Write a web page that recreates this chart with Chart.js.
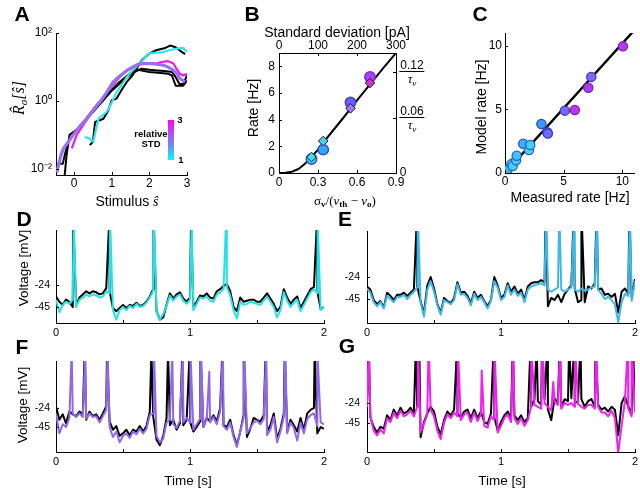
<!DOCTYPE html>
<html>
<head>
<meta charset="utf-8">
<script src="https://cdn.jsdelivr.net/npm/chart.js@4.4.0/dist/chart.umd.min.js"></script>
<style>
  body { margin: 0; background: #fff; }
  #fig { position: relative; width: 640px; height: 488px; overflow: hidden; font-family: "Liberation Sans", Arial, sans-serif; color: #000; }
  #fig canvas { position: absolute; }
  .t { position: absolute; white-space: nowrap; line-height: 1; z-index: 2; }
  .c { transform: translate(-50%, -50%); }
  .r { transform: translate(-50%, -50%) rotate(-90deg); }
  .lab { font-weight: bold; font-size: 21px; }
  .ttl { font-size: 14px; }
  .serif { font-family: "Liberation Serif", "DejaVu Serif", serif; }
  sub { font-size: 70%; vertical-align: -0.3em; line-height: 0; }
  .frac { transform: translateX(-50%); text-align: center; font-size: 12px; }
  .frac .num { border-bottom: 1px solid #000; line-height: 11px; padding: 0 1px; }
  .frac .den { font-family: "Liberation Serif", serif; font-style: italic; line-height: 13px; font-size: 13px; }
  #cbar { position: absolute; left: 168px; top: 120px; width: 6px; height: 40px; z-index: 2;
          background: linear-gradient(#ff00ff, #b052f0 35%, #7a84f0 62%, #00ffff); }
</style>
</head>
<body>
<div id="fig">
  <canvas id="cA" width="200" height="210" style="left:0;top:0"></canvas>
  <canvas id="cB" width="230" height="210" style="left:200px;top:0"></canvas>
  <canvas id="cC" width="210" height="210" style="left:430px;top:0"></canvas>
  <canvas id="cD" width="345" height="140" style="left:0;top:205px"></canvas>
  <canvas id="cE" width="320" height="140" style="left:330px;top:205px"></canvas>
  <canvas id="cF" width="345" height="148" style="left:0;top:340px"></canvas>
  <canvas id="cG" width="320" height="148" style="left:330px;top:340px"></canvas>

  <div class="t lab c" style="left:22px;top:13px">A</div>
  <div class="t lab c" style="left:252px;top:13px">B</div>
  <div class="t lab c" style="left:480px;top:13px">C</div>
  <div class="t lab c" style="left:24px;top:218px">D</div>
  <div class="t lab c" style="left:345px;top:218px">E</div>
  <div class="t lab c" style="left:22px;top:346px">F</div>
  <div class="t lab c" style="left:347px;top:345px">G</div>

  <!-- A -->
  <div class="t r serif" style="left:19px;top:98px;font-size:16px;font-style:italic">R&#770;<sub>σ</sub>[s&#770;]</div>
  <div class="t c ttl" style="left:127px;top:201px">Stimulus <i class="serif">s&#770;</i></div>
  <div id="cbar"></div>
  <div class="t c" style="left:151px;top:134px;font-size:9.5px;font-weight:bold">relative</div>
  <div class="t c" style="left:151px;top:144px;font-size:9.5px;font-weight:bold">STD</div>
  <div class="t c" style="left:180px;top:120px;font-size:9.5px;font-weight:bold">3</div>
  <div class="t c" style="left:181px;top:160px;font-size:9.5px;font-weight:bold">1</div>

  <!-- B -->
  <div class="t c ttl" style="left:337px;top:32px">Standard deviation [pA]</div>
  <div class="t r ttl" style="left:253px;top:108px">Rate [Hz]</div>
  <div class="t c serif" style="left:345px;top:200px;font-size:13px">σ<sub><b>v</b></sub>/(<i>v</i><sub><b>th</b></sub> − <i>v</i><sub><b>o</b></sub>)</div>
  <div class="t frac" style="left:412px;top:60px"><div class="num">0.12</div><div class="den">τ<sub>v</sub></div></div>
  <div class="t frac" style="left:412px;top:106px"><div class="num">0.06</div><div class="den">τ<sub>v</sub></div></div>
  <div class="t c" style="left:403px;top:172px;font-size:12px">0</div>

  <!-- C -->
  <div class="t r ttl" style="left:481px;top:107px">Model rate [Hz]</div>
  <div class="t c ttl" style="left:570px;top:197px">Measured rate [Hz]</div>

  <!-- D-G -->
  <div class="t r" style="left:24px;top:268px;font-size:13.5px">Voltage [mV]</div>
  <div class="t r" style="left:23px;top:405px;font-size:13.5px">Voltage [mV]</div>
  <div class="t c" style="left:188px;top:481px;font-size:13.5px">Time [s]</div>
  <div class="t c" style="left:502px;top:481px;font-size:13.5px">Time [s]</div>
</div>

<script>
// ---------- A: rate ratio vs stimulus (log y) ----------
const aBlack1X = [-0.25, -0.2, -0.12, 0, 0.2, 0.4, 0.6, 0.8, 1.0, 1.2, 1.4, 1.6, 1.8, 2.0, 2.2, 2.4, 2.6, 2.7, 2.8, 2.9, 3.0];
const aBlack1R = [0.0063, 0.025, 0.10, 0.126, 0.178, 0.355, 0.63, 1.12, 2.0, 3.16, 5.0, 7.1, 8.9, 8.3, 7.9, 7.6, 7.1, 5.0, 3.16, 3.16, 5.6];
const aBlack2X = [0.42, 0.5, 0.56, 0.78, 0.9, 1.0, 1.13, 1.25, 1.4, 1.55, 1.66, 1.8, 2.0, 2.2, 2.4, 2.55, 2.7, 2.85, 2.95];
const aBlack2R = [0.050, 0.063, 0.24, 0.30, 0.50, 1.05, 1.17, 2.0, 3.63, 5.6, 8.9, 15.8, 25, 31.6, 35.5, 42.7, 38, 28.2, 24];
const aBlack3X = [-0.45, -0.3, -0.25, -0.15, 0, 0.3, 0.6, 0.9, 1.2, 1.5, 1.7, 2.0, 2.3, 2.5, 2.6, 2.7, 2.8, 2.9, 3.0];
const aBlack3R = [0.0141, 0.0141, 0.025, 0.063, 0.112, 0.28, 0.76, 1.66, 3.55, 6.6, 8.3, 7.1, 6.6, 6.3, 5.6, 2.8, 2.8, 2.8, 4.0];
const aCyanX = [0.29, 0.4, 0.51, 0.58, 0.65, 0.87, 1.0, 1.13, 1.25, 1.4, 1.55, 1.75, 1.9, 2.0, 2.2, 2.37, 2.55, 2.73, 2.9, 3.0];
const aCyanR = [0.087, 0.079, 0.063, 0.141, 0.30, 0.48, 0.89, 1.82, 2.8, 5.0, 7.9, 12.6, 20, 25, 26.3, 27.5, 31.6, 34.7, 36.3, 27.5];
const aMagentaX = [-0.06, 0.07, 0.25, 0.42, 0.6, 0.78, 0.95, 1.13, 1.3, 1.49, 1.65, 1.84, 2.0, 2.19, 2.35, 2.5, 2.64, 2.72, 2.81, 2.9, 3.0];
const aMagentaR = [0.040, 0.10, 0.20, 0.38, 0.71, 1.32, 2.24, 4.0, 6.3, 8.9, 11.2, 12.6, 12.6, 12.6, 14.1, 14.8, 12.6, 8.9, 6.3, 5.6, 6.3];
const aPurpleX = [-0.46, -0.35, -0.28, -0.15, -0.02, 0.15, 0.34, 0.5, 0.69, 0.85, 1.04, 1.2, 1.4, 1.6, 1.75, 1.9, 2.1, 2.37, 2.5, 2.64, 2.75, 2.81, 2.95];
const aPurpleR = [0.0079, 0.025, 0.040, 0.063, 0.10, 0.178, 0.30, 0.525, 0.93, 1.66, 3.63, 5.25, 7.9, 10.5, 12.6, 12.6, 12.6, 11.2, 10, 7.9, 6.0, 4.57, 3.63];
const aXTicks = [0, 1, 2, 3];
const aYTicks = [0.01, 1, 100];
const aYLabels = {0.01: '10⁻²', 1: '10⁰', 100: '10²'};

// ---------- B: rate vs normalised noise ----------
const bCurveX = [0, 0.05, 0.1, 0.15, 0.2, 0.25, 0.3, 0.35, 0.4, 0.5, 0.6, 0.7, 0.8, 0.9];
const bCurveY = [0, 0.02, 0.1, 0.3, 0.7, 1.2, 1.75, 2.4, 3.0, 4.2, 5.45, 6.65, 7.85, 9.0];
const bCircX = [0.25, 0.34, 0.55, 0.70];
const bCircY = [1.05, 1.75, 5.3, 7.2];
const bDiaX = [0.25, 0.34, 0.55, 0.70];
const bDiaY = [1.2, 2.4, 4.85, 6.75];
const bXTicks = [0, 0.3, 0.6, 0.9];
const bTopTicks = [0, 100, 200, 300];
const bYTicks = [0, 2, 4, 6, 8];
const bRightTicks = [0, 4.1, 7.6];

// ---------- C: model vs measured rate ----------
const cLineX = [0, 11];
const cLineY = [0, 11.2];
const cMeasured = [0.2, 0.55, 0.65, 0.95, 1.0, 1.55, 2.05, 2.15, 3.1, 3.6, 3.65, 5.1, 5.95, 7.1, 7.35, 10.05];
const cModel = [0.25, 0.7, 0.55, 1.0, 1.35, 2.3, 1.8, 2.2, 3.85, 3.2, 3.1, 4.9, 4.95, 6.7, 7.55, 9.95];
const cTicks = [0, 5, 10];

// ---------- D-G: voltage traces, one sample every 25 ms, spike times in s ----------
const DT = 0.025;
const SPIKE_PEAK = 40;   // off the top of the axis
const vTicks = [-45, -24];
const tTicks = [0, 1, 2];
const tMarks = [0, 0.5, 1, 1.5, 2];

const dBlack = [-35,-40,-43,-38,-40,-45,-43,-36,-33,-30,
  -32,-30,-31,-33,-32,-27,-30,-46,-49,-46,
  -43,-46,-43,-44,-41,-44,-43,-40,-35,-28,
  -49,-57,-55,-43,-32,-37,-33,-31,-37,-40,
  -36,-45,-40,-34,-35,-32,-36,-37,-30,-28,
  -25,-23,-30,-45,-49,-36,-40,-39,-38,-38,
  -40,-40,-36,-32,-37,-42,-49,-45,-28,-36,
  -42,-38,-35,-46,-40,-34,-28,-26,-30,-47,
  -45];
const dCyan = [-38,-50,-43,-40,-42,-38,-45,-38,-36,-33,
  -35,-33,-34,-36,-35,-30,-32,-48,-57,-48,
  -45,-48,-44,-46,-42,-45,-44,-41,-36,-30,
  -50,-57,-52,-44,-34,-39,-35,-33,-39,-42,
  -38,-48,-42,-36,-37,-35,-39,-40,-33,-31,
  -28,-26,-34,-48,-56,-40,-43,-42,-40,-41,
  -42,-43,-39,-35,-40,-45,-55,-48,-31,-39,
  -45,-41,-38,-49,-43,-37,-31,-28,-32,-48,
  -45];
const dBlackSpk = [0.128, 0.398, 0.728, 1.008, 1.948];
const dCyanSpk = [0.132, 0.403, 0.732, 1.012, 1.27, 1.952];

const eBlack = [-33,-36,-46,-50,-47,-53,-39,-42,-46,-41,
  -41,-39,-42,-39,-36,-33,-47,-59,-32,-24,
  -35,-50,-58,-44,-47,-49,-44,-29,-39,-38,
  -42,-49,-38,-44,-41,-47,-52,-46,-24,-32,
  -44,-41,-30,-38,-33,-40,-36,-46,-33,-30,
  -29,-29,-27,-29,-52,-44,-46,-41,-48,-40,
  -36,-32,-35,-48,-46,-48,-33,-35,-30,-36,
  -35,-41,-40,-43,-40,-58,-38,-35,-40,-44,
  -26];
const eBlue = [-35,-39,-48,-52,-48,-54,-42,-45,-48,-43,
  -43,-41,-45,-41,-38,-34,-48,-62,-36,-28,
  -38,-51,-60,-46,-48,-50,-46,-31,-41,-40,
  -44,-51,-40,-46,-43,-48,-54,-47,-28,-34,
  -46,-43,-32,-41,-36,-42,-39,-48,-36,-33,
  -32,-31,-30,-32,-36,-38,-36,-34,-36,-38,
  -36,-34,-36,-38,-35,-37,-36,-34,-33,-36,
  -40,-45,-43,-46,-50,-67,-48,-40,-42,-47,
  -28];
const eBlackSpk = [0.374, 1.333, 1.543, 1.60, 1.713, 1.958];
const eBlueSpk = [0.378, 1.337, 1.435, 1.547, 1.717, 1.962];

const fBlack = [-22,-37,-31,-41,-28,-31,-33,-28,-31,-37,
  -28,-33,-31,-37,-30,-22,-39,-48,-44,-55,
  -52,-48,-54,-48,-50,-44,-50,-44,-28,-33,
  -59,-65,-55,-35,-43,-37,-48,-41,-43,-37,
  -39,-50,-45,-39,-45,-35,-39,-32,-39,-24,
  -43,-45,-37,-54,-65,-50,-32,-56,-47,-35,
  -37,-39,-32,-50,-43,-30,-58,-47,-30,-50,
  -37,-43,-50,-35,-48,-30,-26,-24,-52,-45,
  -47];
const fPurple = [-30,-52,-42,-45,-35,-30,-34,-30,-34,-36,
  -30,-34,-33,-40,-33,-26,-45,-56,-50,-62,
  -55,-52,-57,-50,-53,-47,-52,-47,-32,-30,
  -55,-62,-58,-40,-37,-42,-46,-38,-40,-35,
  -40,-48,-42,-36,-45,-36,-40,-34,-42,-28,
  -44,-48,-40,-56,-67,-50,-35,-52,-46,-40,
  -38,-42,-36,-54,-48,-34,-62,-50,-34,-52,
  -40,-46,-60,-40,-52,-36,-32,-30,-44,-40,
  -42];
const fBlackSpk = [0.214, 0.381, 0.712, 0.836, 0.943, 0.998, 1.078, 1.242, 1.401, 1.565, 1.707, 1.93];
const fPurpleSpk = [0.117, 0.219, 0.385, 0.731, 0.868, 0.947, 1.003, 1.082, 1.246, 1.405, 1.569, 1.711, 1.95];
const fPurplePartial = [[1.144, 16]];

const gBlack = [-28,-39,-49,-55,-49,-51,-37,-42,-31,-37,
  -29,-35,-33,-29,-35,-28,-60,-44,-35,-28,
  -33,-49,-57,-42,-33,-37,-31,-35,-39,-33,
  -31,-40,-31,-40,-33,-44,-46,-35,-39,-53,
  -44,-37,-33,-40,-37,-42,-37,-44,-40,-28,
  -20,-22,-26,-20,-31,-42,-19,-24,-28,-20,
  -22,-19,-24,-22,-20,-28,-22,-20,-28,-26,
  -31,-29,-33,-28,-31,-58,-24,-17,-28,-35,
  -33];
const gMagenta = [-28,-38,-53,-58,-52,-56,-40,-44,-34,-40,
  -32,-38,-36,-32,-38,-28,-55,-46,-36,-31,
  -38,-53,-62,-45,-36,-40,-34,-38,-42,-36,
  -34,-44,-34,-43,-36,-48,-50,-38,-42,-55,
  -48,-40,-36,-44,-40,-46,-40,-48,-42,-28,
  -26,-28,-30,-24,-28,-32,-23,-26,-30,-24,
  -26,-24,-28,-25,-28,-30,-26,-26,-30,-28,
  -34,-34,-38,-32,-40,-76,-48,-22,-30,-38,
  -34];
const gBlackSpk = [0.012, 0.365, 0.39, 0.673, 0.946, 1.088, 1.221, 1.266, 1.306, 1.347, 1.438, 1.509, 1.548, 1.593, 1.705, 1.985];
const gMagentaSpk = [0.014, 0.38, 0.46, 0.677, 0.95, 1.092, 1.225, 1.31, 1.442, 1.552, 1.709, 1.948, 1.975];
const gMagentaPartial = [[0.856, 10], [1.39, -2]];

// ---------- helpers ----------
const FONT = '"Liberation Sans", Arial, sans-serif';
Chart.defaults.font.family = FONT;
Chart.defaults.color = '#000';

const zip = (xs, ys) => xs.map((x, i) => ({x: x, y: ys[i]}));

function trace(vals, spikes, partial) {
  const pts = vals.map((v, i) => ({x: +(i * DT).toFixed(3), y: v}));
  spikes.forEach(t => pts.push({x: t, y: SPIKE_PEAK}));
  (partial || []).forEach(p => pts.push({x: p[0], y: p[1]}));
  return pts.sort((a, b) => a.x - b.x);
}

// axis with a fixed thickness so every plot area lands where it should
function ax(o) {
  return {
    type: o.type || 'linear',
    position: o.pos,
    min: o.min,
    max: o.max,
    grid: {display: false, drawTicks: false},
    border: {display: true, color: '#000', width: 1},
    afterBuildTicks: s => { s.ticks = o.ticks.map(v => ({value: v})); },
    afterFit: s => {
      if (o.pos === 'left' || o.pos === 'right') s.width = o.size;
      else s.height = o.size;
    },
    ticks: {
      display: o.labels !== false,
      color: '#000',
      font: {family: FONT, size: o.font || 12},
      padding: o.pad == null ? 3 : o.pad,
      maxRotation: 0, minRotation: 0, autoSkip: false,
      callback: o.fmt || (v => String(v))
    }
  };
}

// matlab-like tick marks pointing into the plot
function marks(spec, len) {
  len = len || 3;
  return {
    id: 'marks',
    afterDatasetsDraw(chart) {
      const ctx = chart.ctx;
      ctx.save();
      ctx.strokeStyle = '#000';
      ctx.lineWidth = 1;
      Object.keys(spec).forEach(id => {
        const s = chart.scales[id];
        spec[id].forEach(v => {
          const p = Math.round(s.getPixelForValue(v)) + 0.5;
          ctx.beginPath();
          if (s.isHorizontal()) {
            const y0 = s.position === 'top' ? s.bottom : s.top;
            ctx.moveTo(p, y0);
            ctx.lineTo(p, y0 + (s.position === 'top' ? len : -len));
          } else {
            const x0 = s.position === 'right' ? s.left : s.right;
            ctx.moveTo(x0, p);
            ctx.lineTo(x0 + (s.position === 'right' ? -len : len), p);
          }
          ctx.stroke();
        });
      });
      ctx.restore();
    }
  };
}

function baseOpts(pad, scales) {
  return {
    responsive: false,
    animation: false,
    events: [],
    layout: {padding: pad},
    plugins: {legend: {display: false}, tooltip: {enabled: false}},
    elements: {point: {radius: 0}, line: {tension: 0, borderJoinStyle: 'round'}},
    scales: scales
  };
}

// ---------- A ----------
new Chart(document.getElementById('cA'), {
  type: 'line',
  data: {datasets: [
    {data: zip(aPurpleX, aPurpleR), borderColor: '#9a70f2', borderWidth: 3.2},
    {data: zip(aMagentaX, aMagentaR), borderColor: '#e620e6', borderWidth: 2.2},
    {data: zip(aCyanX, aCyanR), borderColor: '#2ee8e8', borderWidth: 2.2},
    {data: zip(aBlack1X, aBlack1R), borderColor: '#000', borderWidth: 2},
    {data: zip(aBlack2X, aBlack2R), borderColor: '#000', borderWidth: 2},
    {data: zip(aBlack3X, aBlack3R), borderColor: '#000', borderWidth: 2}
  ]},
  options: baseOpts({top: 33, right: 13}, {
    x: ax({pos: 'bottom', min: -0.48, max: 3, ticks: aXTicks, size: 35, pad: 1}),
    y: ax({type: 'logarithmic', pos: 'left', min: 0.0066, max: 100, ticks: aYTicks, size: 56, pad: 4,
           fmt: v => aYLabels[v]})
  }),
  plugins: [marks({x: aXTicks, y: aYTicks})]
});

// ---------- B ----------
new Chart(document.getElementById('cB'), {
  type: 'line',
  data: {datasets: [
    {data: zip(bDiaX, bDiaY), showLine: false, pointStyle: 'rectRot', pointRadius: 4.8,
     pointBackgroundColor: ['#3fe0ea', '#45d2ea', '#a37ae2', '#d234cc'], pointBorderColor: '#1b1b45', pointBorderWidth: 1},
    {data: zip(bCircX, bCircY), showLine: false, pointStyle: 'circle', pointRadius: 5.2,
     pointBackgroundColor: ['#3fcdf0', '#3aa2f5', '#6a60f2', '#b040f0'],
     pointBorderColor: ['#1f56d8', '#1f56d8', '#3f3ed8', '#6a30d8'], pointBorderWidth: 1.5},
    {data: zip(bCurveX, bCurveY), borderColor: '#000', borderWidth: 2}
  ]},
  options: baseOpts({}, {
    x: ax({pos: 'bottom', min: 0, max: 0.9, ticks: bXTicks, size: 37, pad: 2,
           fmt: v => v === 0 ? '0' : v.toFixed(1)}),
    x2: ax({pos: 'top', min: 0, max: 300, ticks: bTopTicks, size: 53, pad: 0}),
    y: ax({pos: 'left', min: 0, max: 9, ticks: bYTicks, size: 79, pad: 4}),
    y2: ax({pos: 'right', min: 0, max: 9, ticks: bRightTicks, size: 34, labels: false})
  }),
  plugins: [marks({x: bXTicks, x2: bTopTicks, y: bYTicks, y2: bRightTicks})]
});

// ---------- C ----------
new Chart(document.getElementById('cC'), {
  type: 'line',
  data: {datasets: [
    {data: zip(cMeasured, cModel), showLine: false, pointStyle: 'circle', pointRadius: 4.6,
     pointBackgroundColor: ['#3ab8f2', '#40dcf2', '#40d4f2', '#40ccf2', '#40c2f2', '#38b2f2', '#40daf2', '#40d0f2',
                            '#3a9af2', '#6c6cf2', '#6c6cf2', '#7a66f2', '#c034f0', '#b03af0', '#7a6af2', '#c034f0'],
     pointBorderColor: ['#2a50c8', '#2a60c8', '#2a60c8', '#2a60c8', '#2a60c8', '#2a50c8', '#2a60c8', '#2a60c8',
                        '#2a48c8', '#3a38c0', '#3a38c0', '#4038c0', '#6a28c0', '#6a28c0', '#4038c0', '#6a28c0'],
     pointBorderWidth: 1.3},
    {data: zip(cLineX, cLineY), borderColor: '#000', borderWidth: 2.4}
  ]},
  options: baseOpts({top: 33, right: 3}, {
    x: ax({pos: 'bottom', min: 0, max: 11, ticks: cTicks, size: 37, pad: 1.5}),
    y: ax({pos: 'left', min: 0, max: 11, ticks: cTicks, size: 75, pad: 3})
  }),
  plugins: [marks({x: cTicks, y: cTicks})]
});

// ---------- D-G ----------
function traceChart(id, colour, black, coloured, yMin, yMax, g) {
  new Chart(document.getElementById(id), {
    type: 'line',
    data: {datasets: [
      {data: coloured, borderColor: colour, borderWidth: 2},
      {data: black, borderColor: '#000', borderWidth: 2}
    ]},
    options: baseOpts({top: g.top, right: g.right}, {
      x: ax({pos: 'bottom', min: 0, max: 2, ticks: tTicks, size: g.xh, font: 11, pad: 3.4}),
      y: ax({pos: 'left', min: yMin, max: yMax, ticks: vTicks, size: g.yw, font: 10.5, pad: g.ypad})
    }),
    plugins: [marks({x: tMarks, y: vTicks})]
  });
}

traceChart('cD', '#25e2e8', trace(dBlack, dBlackSpk), trace(dCyan, dCyanSpk), -60.3, 28.5,
           {top: 25, right: 21, xh: 22, yw: 56, ypad: 6});
traceChart('cE', '#3cb9e8', trace(eBlack, eBlackSpk), trace(eBlue, eBlueSpk), -67.9, 19.9,
           {top: 26, right: 15, xh: 22, yw: 37, ypad: 7});
traceChart('cF', '#9268ea', trace(fBlack, fBlackSpk), trace(fPurple, fPurpleSpk, fPurplePartial), -72.6, 27.9,
           {top: 21, right: 21, xh: 36, yw: 56, ypad: 6});
traceChart('cG', '#f020f0', trace(gBlack, gBlackSpk), trace(gMagenta, gMagentaSpk, gMagentaPartial), -75.5, 20.1,
           {top: 21, right: 15, xh: 36, yw: 37, ypad: 7});
</script>
</body>
</html>
